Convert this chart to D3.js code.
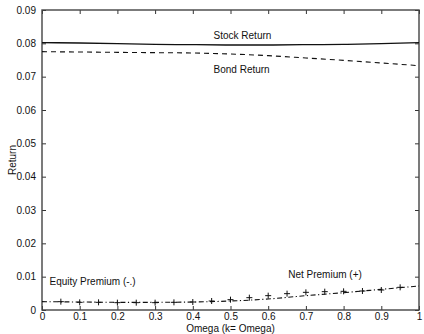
<!DOCTYPE html>
<html>
<head>
<meta charset="utf-8">
<script src="https://cdn.jsdelivr.net/npm/d3@7"></script>
<style>
body { margin: 0; background: #fff; }
text { font-family: "Liberation Sans", Arial, sans-serif; }
</style>
</head>
<body>
<div id="chart"></div>
<script>
// omega grid for the curves
const omega = [0, 0.1, 0.2, 0.3, 0.4, 0.5, 0.6, 0.7, 0.8, 0.9, 1.0];
const stockReturn = [0.0802, 0.0801, 0.0799, 0.0797, 0.0796, 0.0795, 0.0795, 0.0796, 0.0797, 0.0799, 0.0802];
const bondReturn = [0.0775, 0.0774, 0.0773, 0.0772, 0.0771, 0.0768, 0.0763, 0.0756, 0.0749, 0.0741, 0.0733];
const equityPremium = [0.0025, 0.0024, 0.0023, 0.0023, 0.0024, 0.0027, 0.0033, 0.0043, 0.0052, 0.0062, 0.0072];

// net premium markers (+)
const omegaMarks = [0.05, 0.1, 0.15, 0.2, 0.25, 0.3, 0.35, 0.4, 0.45, 0.5, 0.55, 0.6, 0.65, 0.7, 0.75, 0.8, 0.85, 0.9, 0.95];
const netPremium = [0.0025, 0.0023, 0.0023, 0.0022, 0.0022, 0.0022, 0.0023, 0.0024, 0.0027, 0.0031, 0.0037, 0.0043, 0.0049, 0.0053, 0.0055, 0.0056, 0.0057, 0.006, 0.0068];

const xTicks = [0, 0.1, 0.2, 0.3, 0.4, 0.5, 0.6, 0.7, 0.8, 0.9, 1];
const yTicks = [0, 0.01, 0.02, 0.03, 0.04, 0.05, 0.06, 0.07, 0.08, 0.09];

const W = 424, H = 334;
const m = {left: 42, right: 5, top: 10, bottom: 24};
const iw = W - m.left - m.right, ih = H - m.top - m.bottom;

const x = d3.scaleLinear().domain([0, 1]).range([0, iw]);
const y = d3.scaleLinear().domain([0, 0.09]).range([ih, 0]);

const svg = d3.select("#chart").append("svg")
	.attr("width", W).attr("height", H);
const g = svg.append("g").attr("transform", `translate(${m.left},${m.top})`);

const fmtY = d => d === 0 ? "0" : d3.format(".2f")(d);
const fmtX = d => (d === 0 || d === 1) ? String(d) : d3.format(".1f")(d);

// axes with inward ticks, matlab box style
const styleAxis = sel => {
	sel.select(".domain").remove();
	sel.selectAll(".tick line").attr("stroke", "#333").attr("stroke-width", 1);
	sel.selectAll(".tick text").attr("font-size", 10).attr("fill", "#111");
};
g.append("g").attr("transform", `translate(0,${ih})`)
	.call(d3.axisBottom(x).tickValues(xTicks).tickFormat(fmtX).tickSizeInner(-4).tickPadding(3))
	.call(styleAxis);
g.append("g")
	.call(d3.axisTop(x).tickValues(xTicks).tickFormat("").tickSizeInner(-4))
	.call(styleAxis);
g.append("g")
	.call(d3.axisLeft(y).tickValues(yTicks).tickFormat(fmtY).tickSizeInner(-4).tickPadding(6))
	.call(styleAxis);
g.append("g").attr("transform", `translate(${iw},0)`)
	.call(d3.axisRight(y).tickValues(yTicks).tickFormat("").tickSizeInner(-4))
	.call(styleAxis);

g.append("rect").attr("width", iw).attr("height", ih)
	.attr("fill", "none").attr("stroke", "#444").attr("stroke-width", 1.4);

const line = d3.line().x((d, i) => x(omega[i])).y(d => y(d)).curve(d3.curveMonotoneX);

g.append("path").attr("d", line(stockReturn))
	.attr("fill", "none").attr("stroke", "#111").attr("stroke-width", 1.3);
g.append("path").attr("d", line(bondReturn))
	.attr("fill", "none").attr("stroke", "#111").attr("stroke-width", 1.1)
	.attr("stroke-dasharray", "5,4");
g.append("path").attr("d", line(equityPremium))
	.attr("fill", "none").attr("stroke", "#111").attr("stroke-width", 1.1)
	.attr("stroke-dasharray", "5,2.5,1.2,2.5");

// plus markers
g.append("g").selectAll("path.mk").data(netPremium).enter()
	.append("path")
	.attr("transform", (d, i) => `translate(${x(omegaMarks[i])},${y(d)})`)
	.attr("d", "M-3,0H3M0,-3V3")
	.attr("stroke", "#111").attr("stroke-width", 1).attr("fill", "none");

// annotations
const note = (t, xv, yv) => g.append("text").attr("x", x(xv)).attr("y", y(yv))
	.attr("font-size", 10).attr("fill", "#111").text(t);
note("Stock Return", 0.455, 0.0813);
note("Bond Return", 0.455, 0.0712);
note("Equity Premium (-.)", 0.02, 0.0075);
note("Net Premium (+)", 0.653, 0.0097);

svg.append("text").attr("x", m.left + iw / 2).attr("y", H - 2)
	.attr("text-anchor", "middle").attr("font-size", 10).attr("fill", "#111")
	.text("Omega (k= Omega)");
svg.append("text").attr("transform", `translate(16,${m.top + ih / 2}) rotate(-90)`)
	.attr("text-anchor", "middle").attr("font-size", 10).attr("fill", "#111")
	.text("Return");
</script>
</body>
</html>
